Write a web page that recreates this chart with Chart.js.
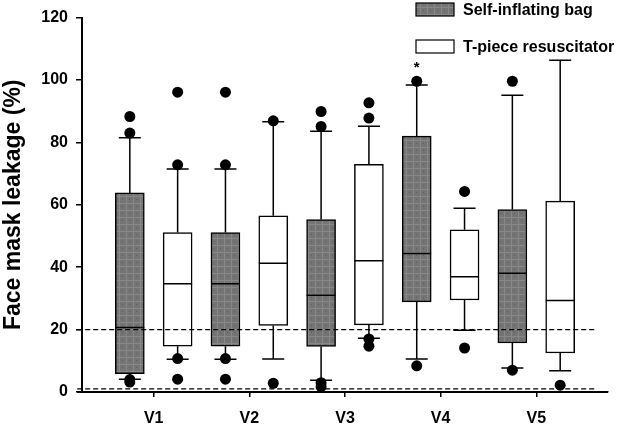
<!DOCTYPE html>
<html><head><meta charset="utf-8">
<script src="https://cdn.jsdelivr.net/npm/chart.js@4.4.0/dist/chart.umd.min.js"></script>
<style>html,body{margin:0;padding:0;background:#fff}</style>
</head><body>
<canvas id="c" width="622" height="426"></canvas>
<script>
// ---- data ----
const categories = ['V1', 'V2', 'V3', 'V4', 'V5'];
const yTicks = [0, 20, 40, 60, 80, 100, 120];
const seriesNames = ['Self-inflating bag', 'T-piece resuscitator'];

const sibLow    = [4.1, 10.5, 3.8, 10.6, 7.7];
const sibQ1     = [5.9, 14.7, 14.6, 28.9, 15.7];
const sibMedian = [20.7, 34.7, 31.0, 44.4, 38.1];
const sibQ3     = [63.8, 51.1, 55.3, 82.0, 58.5];
const sibHigh   = [81.5, 71.5, 83.6, 98.4, 95.1];
const sibOutliers = [[88.3, 83.0, 4.0, 3.2], [96.1, 72.8, 10.7, 4.1], [89.9, 85.1, 3.0, 1.7], [99.6, 8.4], [99.6, 7.0]];

const tprLow    = [10.5, 10.6, 17.2, 19.8, 6.8];
const tprQ1     = [14.7, 21.3, 21.5, 29.5, 12.5];
const tprMedian = [34.7, 41.3, 42.1, 36.9, 29.3];
const tprQ3     = [51.1, 56.5, 73.0, 52.0, 61.2];
const tprHigh   = [71.5, 86.6, 85.2, 58.9, 106.3];
const tprOutliers = [[96.1, 72.8, 10.7, 4.1], [86.9, 2.8], [92.7, 87.8, 17.0, 14.7], [64.3, 14.1], [2.2]];

const referenceLines = [20, 1];
const starCategory = 4;     // V4, self-inflating bag
const starValue = 102.5;

// ---- styles ----
const FONT = '"Liberation Sans", Arial, sans-serif';
const OFFSET = 0.25;
const BOX_W = 29;
const CAP_W = 22;

function makePattern() {
  const p = document.createElement('canvas');
  p.width = 7; p.height = 7;
  const g = p.getContext('2d');
  g.fillStyle = '#747474'; g.fillRect(0, 0, 7, 7);
  g.fillStyle = '#888888'; g.fillRect(0, 0, 7, 1); g.fillRect(0, 0, 1, 7);
  g.fillStyle = '#5e5e5e'; g.fillRect(3, 3, 1, 1);
  return document.getElementById('c').getContext('2d').createPattern(p, 'repeat');
}
const pattern = makePattern();

const groups = [
  { off: -OFFSET, low: sibLow, q1: sibQ1, med: sibMedian, q3: sibQ3, high: sibHigh, out: sibOutliers, fill: pattern },
  { off: OFFSET, low: tprLow, q1: tprQ1, med: tprMedian, q3: tprQ3, high: tprHigh, out: tprOutliers, fill: '#ffffff' }
];

const outlierPoints = [];
groups.forEach(g => g.out.forEach((arr, i) => arr.forEach(v => outlierPoints.push({ x: i + 1 + g.off, y: v }))));

const boxPlugin = {
  id: 'boxes',
  afterDatasetDraw(chart, args) {
    if (args.index !== 0) return;
    const { ctx, scales: { x, y } } = chart;
    ctx.save();
    ctx.strokeStyle = '#000';
    ctx.lineWidth = 1.5;
    groups.forEach(g => {
      categories.forEach((c, i) => {
        const cx = x.getPixelForValue(i + 1 + g.off);
        ctx.beginPath();
        ctx.moveTo(cx - BOX_W / 2, y.getPixelForValue(g.med[i]));
        ctx.lineTo(cx + BOX_W / 2, y.getPixelForValue(g.med[i]));
        ctx.moveTo(cx, y.getPixelForValue(g.q3[i]));
        ctx.lineTo(cx, y.getPixelForValue(g.high[i]));
        ctx.moveTo(cx - CAP_W / 2, y.getPixelForValue(g.high[i]));
        ctx.lineTo(cx + CAP_W / 2, y.getPixelForValue(g.high[i]));
        ctx.moveTo(cx, y.getPixelForValue(g.q1[i]));
        ctx.lineTo(cx, y.getPixelForValue(g.low[i]));
        ctx.moveTo(cx - CAP_W / 2, y.getPixelForValue(g.low[i]));
        ctx.lineTo(cx + CAP_W / 2, y.getPixelForValue(g.low[i]));
        ctx.stroke();
      });
    });
    ctx.setLineDash([5, 3]);
    ctx.lineWidth = 1.4;
    referenceLines.forEach(v => {
      const py = y.getPixelForValue(v);
      ctx.beginPath();
      ctx.moveTo(x.getPixelForValue(0.2), py);
      ctx.lineTo(x.getPixelForValue(5.63), py);
      ctx.stroke();
    });
    ctx.restore();
  },
  afterDraw(chart) {
    const { ctx, chartArea: a, scales: { x, y } } = chart;
    ctx.save();
    // axis lines
    ctx.fillStyle = '#000';
    ctx.fillRect(Math.round(a.left) - 1, Math.round(a.top) - 1, 2, Math.round(a.bottom - a.top) + 2);
    ctx.fillRect(Math.round(a.left) - 5, Math.round(a.bottom) - 1, Math.round(a.right - a.left) + 5, 2);
    // star
    ctx.font = 'bold 15px ' + FONT;
    ctx.textAlign = 'center';
    ctx.textBaseline = 'alphabetic';
    ctx.fillText('*', x.getPixelForValue(starCategory - OFFSET), y.getPixelForValue(starValue));
    // legend
    const items = [{ fill: pattern, y: 3, text: seriesNames[0] }, { fill: '#ffffff', y: 40, text: seriesNames[1] }];
    ctx.font = 'bold 16px ' + FONT;
    ctx.textAlign = 'left';
    ctx.textBaseline = 'middle';
    items.forEach(it => {
      ctx.fillStyle = it.fill;
      ctx.fillRect(416, it.y, 38, 13);
      ctx.strokeStyle = '#000';
      ctx.lineWidth = 1.2;
      ctx.strokeRect(416, it.y, 38, 13);
      ctx.fillStyle = '#000';
      ctx.fillText(it.text, 463, it.y + 8);
    });
    ctx.restore();
  }
};

new Chart(document.getElementById('c'), {
  type: 'bar',
  data: {
    datasets: [
      {
        label: seriesNames[0],
        data: categories.map((c, i) => ({ x: i + 1 - OFFSET, y: [sibQ1[i], sibQ3[i]] })),
        backgroundColor: pattern, borderColor: '#000', borderWidth: 1.5, borderSkipped: false,
        barThickness: BOX_W, grouped: false, order: 0
      },
      {
        label: seriesNames[1],
        data: categories.map((c, i) => ({ x: i + 1 + OFFSET, y: [tprQ1[i], tprQ3[i]] })),
        backgroundColor: '#ffffff', borderColor: '#000', borderWidth: 1.5, borderSkipped: false,
        barThickness: BOX_W, grouped: false, order: 0
      },
      {
        type: 'scatter', label: 'outliers', data: outlierPoints,
        pointRadius: 5.5, backgroundColor: '#000', borderWidth: 0, order: -1
      }
    ]
  },
  options: {
    responsive: false,
    animation: false,
    layout: { padding: { left: 0, top: 14, right: 14, bottom: 0 } },
    plugins: { legend: { display: false }, tooltip: { enabled: false } },
    scales: {
      x: {
        type: 'linear', min: 0.25, max: 5.75, offset: false,
        afterBuildTicks: s => { s.ticks = categories.map((c, i) => ({ value: i + 1 })); },
        ticks: { callback: v => categories[Math.round(v) - 1] || '', font: { family: FONT, size: 16, weight: 'bold' }, color: '#000', padding: 12, maxRotation: 0, autoSkip: false },
        grid: { display: true, offset: false, drawOnChartArea: false, drawTicks: true, tickLength: 5, color: '#000', lineWidth: 1.5 },
        border: { display: true, color: '#000', width: 1.5 },
        afterFit: s => { s.height = 34; }
      },
      y: {
        min: 0, max: 120,
        afterBuildTicks: s => { s.ticks = yTicks.map(v => ({ value: v })); },
        ticks: { font: { family: FONT, size: 16, weight: 'bold' }, color: '#000', padding: 8 },
        grid: { display: true, drawOnChartArea: false, drawTicks: true, tickLength: 6, color: '#000', lineWidth: 1.5 },
        border: { display: true, color: '#000', width: 1.5 },
        title: { display: true, text: 'Face mask leakage (%)', font: { family: FONT, size: 23, weight: 'bold' }, color: '#000', padding: 0 },
        afterFit: s => { s.width = 82; }
      }
    }
  },
  plugins: [boxPlugin]
});
</script>
</body></html>
